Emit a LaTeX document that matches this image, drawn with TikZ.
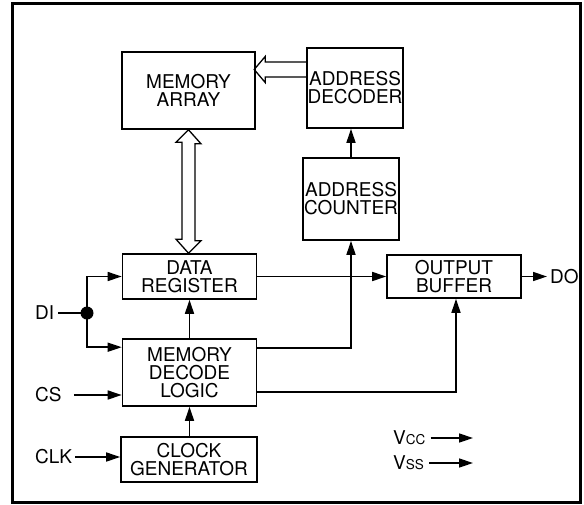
\documentclass[tikz,border=0pt]{standalone}
\usepackage{fontspec}
\setmainfont{TeX Gyre Heros}
\usetikzlibrary{arrows.meta}

\begin{document}
\begin{tikzpicture}[x=1pt, y=-1pt,
	blk/.style={draw, line width=1.6pt, inner sep=0pt, align=center, font=\fontsize{19}{18}\selectfont},
	lbl/.style={inner sep=0pt, anchor=west, font=\fontsize{19}{18}\selectfont},
	arr/.style={line width=1.5pt, -{Triangle[length=14pt, width=9pt]}},
	bus/.style={line width=1.3pt, line join=miter}]
	\useasboundingbox (0,0) rectangle (584,504);
	\draw[line width=2.6pt] (12.5,3.5) rectangle (580.5,502.5);
	% blocks
	\node[blk, minimum width=133pt, minimum height=77pt] (marray) at (188.5,90.5) {MEMORY\\ARRAY};
	\node[blk, minimum width=96pt, minimum height=80pt] (adec) at (355,88) {ADDRESS\\DECODER};
	\node[blk, minimum width=96pt, minimum height=82pt] (acnt) at (351,199) {ADDRESS\\COUNTER};
	\node[blk, minimum width=134pt, minimum height=45pt] (dreg) at (189.5,276.5) {DATA\\REGISTER};
	\node[blk, minimum width=134pt, minimum height=43pt] (obuf) at (454,276.5) {OUTPUT\\BUFFER};
	\node[blk, minimum width=134pt, minimum height=67pt] (mdec) at (189.5,372.5) {MEMORY\\DECODE\\LOGIC};
	\node[blk, minimum width=136pt, minimum height=45pt] (clkgen) at (189,459.5) {CLOCK\\GENERATOR};
	% pins
	\node[lbl] (di) at (35,313) {DI};
	\node[lbl] (cs) at (35,395) {CS};
	\node[lbl] (clk) at (35,457) {CLK};
	\node[lbl] (do) at (550,276.5) {DO};
	\node[lbl] (vcc) at (393,438) {V{\fontsize{13.5}{13}\selectfont CC}};
	\node[lbl] (vss) at (393,463) {V{\fontsize{13.5}{13}\selectfont SS}};
	\coordinate (vccend) at (473,438);
	\coordinate (vssend) at (473,463);
	\coordinate (dijct) at (87,313);
	% buses
	\draw[bus] ([yshift=26pt]adec.west) -- ++(-41,0) -- ++(0,-5.5) -- ++(-11,13) -- ++(11,13) -- ++(0,-5.5) -- ++(41,0);
	\draw[bus] (marray.south) -- ++(12.5,14) -- ++(-6,0) -- ++(0,97) -- ++(6,0) -- (dreg.north -| marray.south) -- ++(-12.5,-14) -- ++(6,0) -- ++(0,-97) -- ++(-6,0) -- cycle;
	% signals
	\draw[arr] (acnt.north) -- (acnt.north |- adec.south);
	\draw[arr] (dreg.east) -- (obuf.west);
	\draw[arr] (obuf.east) -- ([xshift=-3pt]do.west);
	\draw[arr] (mdec.north) -- (dreg.south);
	\draw[arr] (clkgen.north -| mdec.south) -- (mdec.south);
	\draw[arr] ([yshift=-10pt]mdec.north east) -| (acnt.south);
	\draw[arr] ([yshift=15pt]mdec.south east) -| ([xshift=2pt]obuf.south);
	\draw[line width=1.5pt] ([xshift=4pt]di.east) -- (dijct);
	\fill (dijct) circle (6.5pt);
	\draw[arr] (dijct) |- (dreg.west);
	\draw[arr] (dijct) |- ([yshift=-9pt]mdec.north west);
	\draw[arr] ([xshift=12pt]cs.east) -- (cs.east -| mdec.west);
	\draw[arr] ([xshift=3pt]clk.east) -- (clk.east -| clkgen.west);
	\draw[arr] ([xshift=5pt]vcc.east) -- (vccend);
	\draw[arr] ([xshift=5pt]vss.east) -- (vssend);
\end{tikzpicture}
\end{document}
